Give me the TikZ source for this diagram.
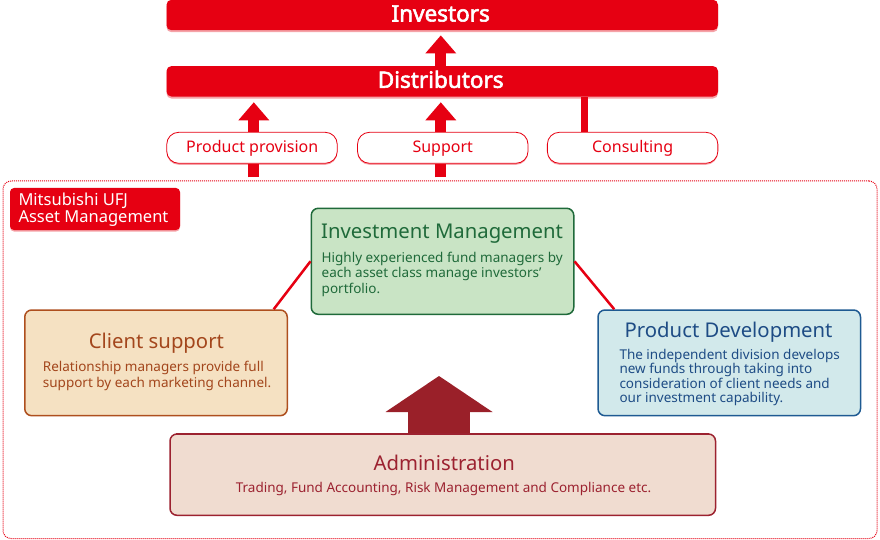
\documentclass[tikz,border=0pt]{standalone}
\usepackage{fontspec}
\setmainfont{Noto Sans}[AutoFakeBold=2.5]
\usetikzlibrary{arrows.meta,shadows,calc}
\definecolor{mred}{HTML}{E60012}
\definecolor{mpink}{HTML}{F5A3A8}
\definecolor{imfill}{HTML}{C9E4C5}
\definecolor{imline}{HTML}{1F6A3A}
\definecolor{csfill}{HTML}{F5E1C2}
\definecolor{csline}{HTML}{AE4F1E}
\definecolor{cstext}{HTML}{A3461C}
\definecolor{pdfill}{HTML}{D2E9EB}
\definecolor{pdline}{HTML}{1E5A92}
\definecolor{pdtext}{HTML}{1E4C85}
\definecolor{adfill}{HTML}{F0DCD0}
\definecolor{adline}{HTML}{9C2230}
\definecolor{adarrow}{HTML}{9A2029}
\begin{document}
\begin{tikzpicture}[x=1pt,y=-1pt,
  bar/.style={fill=mred, rounded corners=5pt, minimum width=551.5pt, minimum height=30.5pt, inner sep=0pt,
    general shadow={fill=mpink, shadow yshift=-2pt}},
  bartext/.style={text=white, font=\bfseries\fontsize{22.5}{22.5}\selectfont, inner sep=0pt, anchor=base},
  pill/.style={draw=mred, fill=white, line width=0.8pt, rounded corners=12pt, minimum width=170.5pt, minimum height=31pt, inner sep=0pt,
    general shadow={fill=mpink, shadow yshift=-1.5pt}},
  pilltext/.style={text=mred, font=\fontsize{16}{16}\selectfont, inner sep=0pt, anchor=base},
  tag/.style={fill=mred, rounded corners=4pt, minimum width=170pt, minimum height=42pt, inner sep=0pt,
    general shadow={fill=mpink, shadow yshift=-1.5pt}},
  tagtext/.style={text=white, font=\fontsize{16.5}{16.5}\selectfont, inner sep=0pt, anchor=base west},
  frame/.style={draw=mred, line width=1pt, dash pattern=on 1pt off 1pt, rounded corners=8pt, inner sep=0pt},
  box/.style={rounded corners=7pt, line width=1.5pt, inner sep=0pt, minimum width=262.5pt, minimum height=105.7pt},
  title/.style={font=\fontsize{20.3}{20.3}\selectfont, inner sep=0pt, anchor=base},
  body/.style={font=\fontsize{13.5}{13.5}\selectfont, inner sep=0pt, anchor=base west},
  redarrow/.style={draw=mred, line width=11pt, -{Triangle[width=31pt,length=18pt,line width=0pt]}},
  conn/.style={draw=mred, line width=2.5pt},
]
\useasboundingbox (0,0) rectangle (880,540);

% outer dotted frame
\node[frame, minimum width=874pt, minimum height=357.5pt] (mufg) at (440,359.75) {};

% bars
\node[bar] (inv) at (442.25,15) {};
\node[bartext] (invt) at (440.7,21.5) {Investors};
\node[bar] (dist) at (442.25,81.3) {};
\node[bartext] (distt) at (440.7,87.8) {Distributors};

% column coordinates
\coordinate (c1) at (253.8,0);
\coordinate (c2) at (440.8,0);
\coordinate (c3) at (584.7,0);
\coordinate (s1) at (253.8,177.5);
\coordinate (s2) at (440.8,177.5);

% pills
\node[pill] (pp) at (252,147.8) {};
\node[pill] (sup) at (442.75,147.8) {};
\node[pill] (cons) at (632.6,147.8) {};
\node[pilltext] (ppt) at (252.25,152.9) {Product provision};
\node[pilltext] (supt) at (442.75,152.9) {Support};
\node[pilltext] (const) at (632.6,152.9) {Consulting};

% red arrows
\draw[redarrow, shorten >=5pt] (dist.north -| c2) -- (inv.south -| c2);
\draw[redarrow, shorten >=5.6pt] (pp.north -| c1) -- (dist.south -| c1);
\draw[redarrow, shorten >=5.6pt] (sup.north -| c2) -- (dist.south -| c2);
\draw[mred, line width=7pt] (cons.north -| c3) -- (dist.south -| c3);
\draw[mred, line width=11pt] (s1) -- (pp.south -| s1);
\draw[mred, line width=11pt] (s2) -- (sup.south -| s2);

% company tag
\node[tag] (tg) at (95,209) {};
\node[tagtext] (tg1) at (18.3,205) {Mitsubishi UFJ};
\node[tagtext] (tg2) at (18.3,222.3) {Asset Management};

% big arrow coordinates
\coordinate (bx) at (439,0);
\coordinate (btip) at (439,376);

% boxes
\node[box, draw=imline, fill=imfill, minimum height=106pt] (im) at (442.5,261.3) {};
\node[box, draw=csline, fill=csfill] (cs) at (156,362.85) {};
\node[box, draw=pdline, fill=pdfill] (pd) at (729.25,362.85) {};
\node[box, draw=adline, fill=adfill, minimum width=545.5pt, minimum height=81.3pt] (ad) at (442.75,474.65) {};

\draw[adarrow, line width=62.5pt, -{Triangle[width=107pt,length=36pt,line width=0pt]}] ($(ad.north -| bx)+(0,0.75)$) -- (btip);
\draw[adline, line width=1.5pt] ($(ad.north west)+(7,0)$) -- ($(ad.north east)+(-7,0)$);

% connectors
\draw[conn] ($(cs.north east)+(-14.3,0)$) -- (im.west);
\draw[conn] (im.east) -- ($(pd.north west)+(17,0)$);

% texts
\node[title, text=imline] (imt) at (442.1,238) {Investment Management};
\node[body, text=imline] (imb1) at (321.5,262) {Highly experienced fund managers by};
\node[body, text=imline] (imb2) at (321.5,277.5) {each asset class manage investors'};
\node[body, text=imline] (imb3) at (321.5,293) {portfolio.};

\node[title, text=cstext] (cst) at (156.4,348) {Client support};
\node[body, text=cstext] (csb1) at (42.7,371.7) {Relationship managers provide full};
\node[body, text=cstext] (csb2) at (42.7,387.3) {support by each marketing channel.};

\node[title, text=pdtext] (pdt) at (728.6,337.3) {Product Development};
\node[body, text=pdtext] (pdb1) at (619.3,359.3) {The independent division develops};
\node[body, text=pdtext] (pdb2) at (619.3,373.8) {new funds through taking into};
\node[body, text=pdtext] (pdb3) at (619.3,388.3) {consideration of client needs and};
\node[body, text=pdtext] (pdb4) at (619.3,402.8) {our investment capability.};

\node[title, text=adline] (adt) at (444.2,470) {Administration};
\node[body, text=adline, anchor=base] (adb) at (443.5,492.7) {Trading, Fund Accounting, Risk Management and Compliance etc.};
\end{tikzpicture}
\end{document}
